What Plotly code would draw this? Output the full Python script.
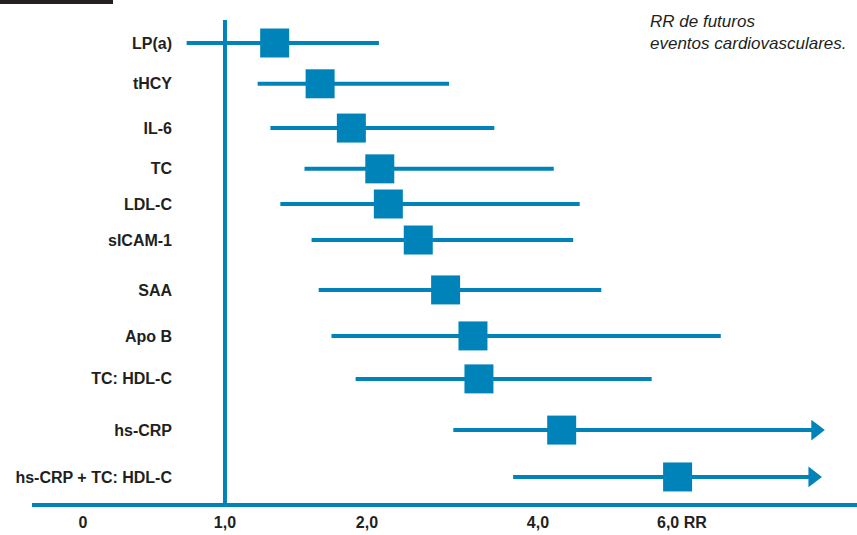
import numpy as np
import plotly.graph_objects as go

# ---- data (relative risk) ----
markers = ["LP(a)", "tHCY", "IL-6", "TC", "LDL-C", "sICAM-1", "SAA",
           "Apo B", "TC: HDL-C", "hs-CRP", "hs-CRP + TC: HDL-C"]
rr_est = [1.35, 1.67, 1.89, 2.15, 2.25, 2.60, 2.92, 3.24, 3.31, 4.33, 5.94]
rr_low = [0.73, 1.23, 1.32, 1.56, 1.39, 1.61, 1.66, 1.75, 1.92, 3.01, 3.71]
rr_high = [2.14, 2.96, 3.49, 4.22, 4.58, 4.49, 4.88, 6.54, 5.58, 7.86, 7.82]
open_ended = [False] * 9 + [True, True]

tick_rr = [0, 1, 2, 4, 6]
tick_text = ["0", "1,0", "2,0", "4,0", "6,0 RR"]

# ---- layout helpers (the original uses a stretched, non-linear RR scale) ----
scale_rr = [0, 1, 2, 4, 6, 8]
scale_pos = [0, 1, 2, 3.204, 4.218, 5.232]


def pos(v):
    return np.interp(v, scale_rr, scale_pos)


row_y = [0, 0.94, 1.96, 2.9, 3.71, 4.54, 5.69, 6.75, 7.74, 8.92, 10.0]

BLUE = "#0083b8"
TEXT = "#231f20"
FONT = "Liberation Sans, Arial, sans-serif"

fig = go.Figure()

# CI lines
lx, ly = [], []
for lo, hi, y in zip(rr_low, rr_high, row_y):
    lx += [pos(lo), pos(hi), None]
    ly += [y, y, None]
fig.add_trace(go.Scatter(x=lx, y=ly, mode="lines",
                         line=dict(color=BLUE, width=4),
                         hoverinfo="skip", showlegend=False))

# arrows for open-ended intervals
ax = [pos(h) for h, o in zip(rr_high, open_ended) if o]
ay = [y for y, o in zip(row_y, open_ended) if o]
fig.add_trace(go.Scatter(x=ax, y=ay, mode="markers",
                         marker=dict(symbol="triangle-right", size=18, color=BLUE),
                         hoverinfo="skip", showlegend=False))

# point estimates
fig.add_trace(go.Scatter(x=pos(np.array(rr_est)), y=row_y, mode="markers",
                         marker=dict(symbol="square", size=29, color=BLUE,
                                     line=dict(width=0)),
                         text=markers, showlegend=False))

# null line at RR = 1
fig.add_shape(type="line", xref="x", yref="paper",
              x0=pos(1), x1=pos(1), y0=0, y1=1,
              line=dict(color=BLUE, width=4))

# black bar top-left
fig.add_shape(type="rect", xref="paper", yref="paper",
              x0=-0.04, x1=0.0982, y0=1.033, y1=1.045,
              fillcolor="#231f20", line=dict(width=0))

fig.add_annotation(xref="paper", yref="paper", x=0.7467, y=1.02,
                   xanchor="left", yanchor="top", align="left",
                   text="<i>RR de futuros<br>eventos cardiovasculares.</i>",
                   showarrow=False,
                   font=dict(family="Liberation Sans, Arial, sans-serif",
                             size=17, color=TEXT))

fig.update_layout(
    width=857, height=535,
    margin=dict(l=32, r=0, t=20, b=32, autoexpand=False),
    plot_bgcolor="white", paper_bgcolor="white",
    xaxis=dict(range=[-0.359, 5.451], showgrid=False, zeroline=False,
               automargin=False,
               showline=True, linecolor=BLUE, linewidth=4,
               tickvals=[pos(t) for t in tick_rr], ticktext=tick_text,
               ticks="", ticklabelstandoff=2,
               tickfont=dict(family=FONT, size=16, color=TEXT, weight="bold")),
    yaxis=dict(range=[10.6, -0.53], showgrid=False, zeroline=False,
               automargin=False,
               showline=False, anchor="free", position=(172 - 32) / 825,
               tickvals=row_y, ticktext=markers, ticks="",
               tickfont=dict(family=FONT, size=16, color=TEXT, weight="bold")),
)

fig.write_html("out.html",
               config={"displayModeBar": False},
               post_script="document.body.style.margin='0';"
                           "document.body.style.overflow='hidden';")
